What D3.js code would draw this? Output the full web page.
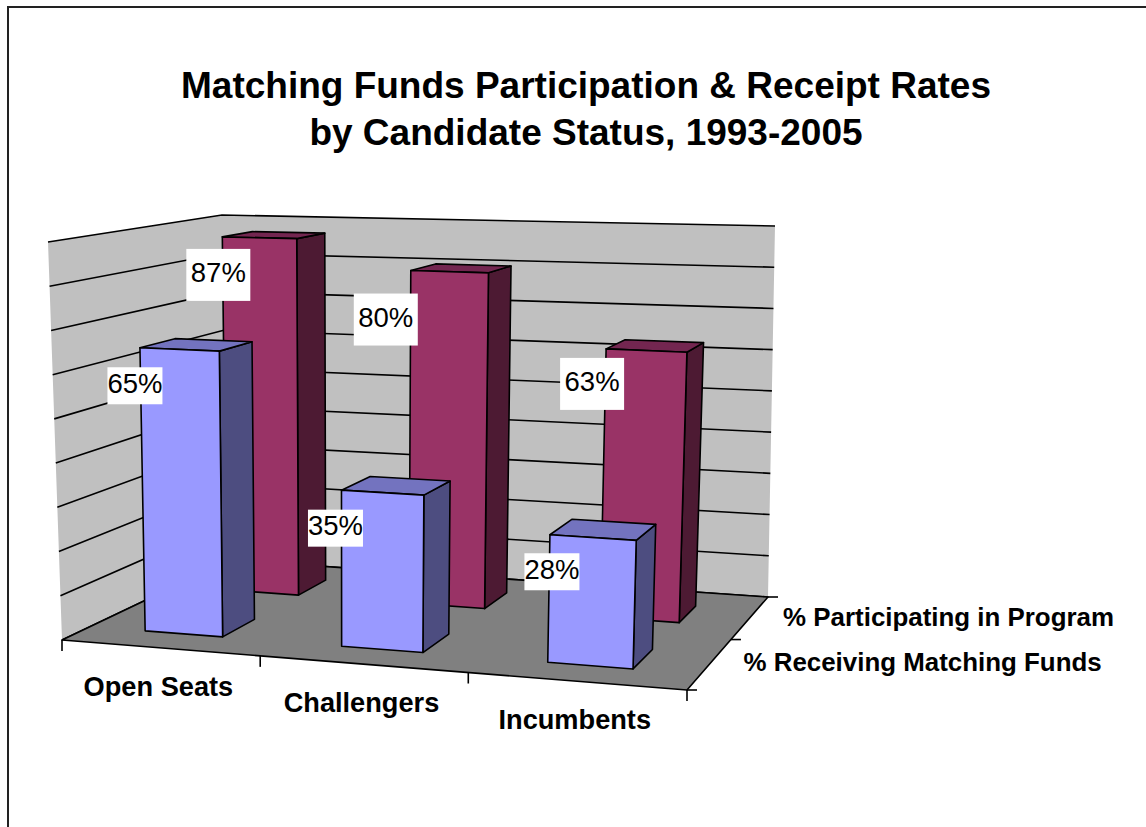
<!DOCTYPE html>
<meta charset="utf-8">
<script src="https://d3js.org/d3.v7.min.js"></script>
<style>
  body { margin: 0; background: #fff; }
  text { font-family: "Liberation Sans", Arial, sans-serif; fill: #000; }
</style>
<div id="chart"></div>
<script>
  // chart values
  const titleLines = ["Matching Funds Participation & Receipt Rates", "by Candidate Status, 1993-2005"];
  const categories = ["Open Seats", "Challengers", "Incumbents"];
  const seriesNames = ["% Receiving Matching Funds", "% Participating in Program"];
  const receiving = [65, 35, 28];
  const participating = [87, 80, 63];
  const valueTicks = [0, 10, 20, 30, 40, 50, 60, 70, 80, 90];

  const width = 1146, height = 827;

  // the box the 3d plot sits in, as seen on screen
  const floorCorners = [[62, 640], [687, 690], [768, 597], [230, 560]];
  const topCorners = [[48, 242], [699, 266], [775, 226], [222, 215]];
  // where the bars' upright edges would meet
  const vanish = [354, 12000];

  const colors = {
    wall: "#c0c0c0", floor: "#808080",
    front: ["#9999ff", "#993366"],
    side: ["#4d4d80", "#4d1a33"],
    top: ["#7373bf", "#732650"]
  };

  // label box nudges from the bar's front top left corner
  const boxNudge = [
    [[-5, 38], [-6, 38], [2, 37]],
    [[-4, 38], [-25, 49], [-14, 35]]
  ];

  const svg = d3.select("#chart").append("svg")
    .attr("width", width)
    .attr("height", height);

  // scales, all into the unit cube
  const xBand = d3.scaleBand().domain(categories).range([-0.004, 0.996]).paddingInner(0.6).paddingOuter(0.3);
  const zBand = d3.scaleBand().domain(seriesNames).range([0, 0.98]).paddingInner(0.6).paddingOuter(0.3);
  const yScale = d3.scaleLinear().domain([0, 90]).range([0, 1]);

  // maps the unit square onto a four sided shape
  function homography(c) {
    const [A, B, C, D] = c;
    const dx1 = B[0] - C[0], dx2 = D[0] - C[0], sx = A[0] - B[0] + C[0] - D[0];
    const dy1 = B[1] - C[1], dy2 = D[1] - C[1], sy = A[1] - B[1] + C[1] - D[1];
    const den = dx1 * dy2 - dx2 * dy1;
    const g = (sx * dy2 - dx2 * sy) / den;
    const h = (dx1 * sy - sx * dy1) / den;
    const a = B[0] - A[0] + g * B[0], b = D[0] - A[0] + h * D[0];
    const d = B[1] - A[1] + g * B[1], e = D[1] - A[1] + h * D[1];
    return function(u, v) {
      const w = g * u + h * v + 1;
      return [(a * u + b * v + A[0]) / w, (d * u + e * v + A[1]) / w];
    };
  }
  const floorMap = homography(floorCorners);
  const topMap = homography(topCorners);

  // walls and gridlines run between the box corners
  function project(u, v, t) {
    const p = floorMap(u, v), q = topMap(u, v);
    return [p[0] + (q[0] - p[0]) * t, p[1] + (q[1] - p[1]) * t];
  }

  // bars go straight up from the floor, leaning away from the vanishing point
  function barPoint(u, v, t) {
    const p = floorMap(u, v), q = topMap(u, v);
    const y = p[1] + (q[1] - p[1]) * t;
    const lean = (p[0] - vanish[0]) / (vanish[1] - p[1]);
    return [p[0] + lean * (p[1] - y), y];
  }

  const poly = d3.line().curve(d3.curveLinearClosed);
  const seg = d3.line();

  function face(pts, fill) {
    svg.append("path")
      .attr("d", poly(pts))
      .attr("fill", fill)
      .attr("stroke", "#000")
      .attr("stroke-width", 1.6)
      .attr("stroke-linejoin", "round");
  }

  // outer frame
  svg.append("path")
    .attr("d", seg([[8, height], [8, 7], [width, 7]]))
    .attr("fill", "none")
    .attr("stroke", "#222")
    .attr("stroke-width", 2);

  // walls
  svg.append("path")
    .attr("d", poly([project(0, 0, 0), project(0, 1, 0), project(1, 1, 0), project(1, 1, 1), project(0, 1, 1), project(0, 0, 1)]))
    .attr("fill", colors.wall);

  // gridlines
  valueTicks.forEach(function(tick) {
    const t = yScale(tick);
    svg.append("path")
      .attr("d", seg([project(0, 0, t), project(0, 1, t), project(1, 1, t)]))
      .attr("fill", "none")
      .attr("stroke", "#000")
      .attr("stroke-width", 1.6);
  });

  // floor
  face([project(0, 0, 0), project(1, 0, 0), project(1, 1, 0), project(0, 1, 0)], colors.floor);

  // category ticks along the front edge
  d3.range(categories.length + 1).forEach(function(i) {
    const p = project(i / categories.length, 0, 0);
    svg.append("path")
      .attr("d", seg([p, [p[0], p[1] + 11]]))
      .attr("stroke", "#000")
      .attr("stroke-width", 1.6);
  });

  // series ticks along the right edge
  d3.range(seriesNames.length + 1).forEach(function(i) {
    const p = project(1, i / seriesNames.length, 0);
    svg.append("path")
      .attr("d", seg([p, [p[0] + 10, p[1]]]))
      .attr("stroke", "#000")
      .attr("stroke-width", 1.6);
  });

  // bars, back row first
  const rows = [receiving, participating];
  [1, 0].forEach(function(r) {
    const z0 = zBand(seriesNames[r]), z1 = z0 + zBand.bandwidth();
    categories.forEach(function(cat, i) {
      const x0 = xBand(cat), x1 = x0 + xBand.bandwidth();
      const t = yScale(rows[r][i]);
      face([barPoint(x1, z0, 0), barPoint(x1, z1, 0), barPoint(x1, z1, t), barPoint(x1, z0, t)], colors.side[r]);
      face([barPoint(x0, z0, t), barPoint(x1, z0, t), barPoint(x1, z1, t), barPoint(x0, z1, t)], colors.top[r]);
      face([barPoint(x0, z0, 0), barPoint(x1, z0, 0), barPoint(x1, z0, t), barPoint(x0, z0, t)], colors.front[r]);
    });
  });

  // data labels on white boxes
  [1, 0].forEach(function(r) {
    const boxW = r ? 64 : 55, boxH = r ? 52 : 37;
    categories.forEach(function(cat, i) {
      const p = barPoint(xBand(cat), zBand(seriesNames[r]), yScale(rows[r][i]));
      const cx = p[0] + boxNudge[r][i][0], cy = p[1] + boxNudge[r][i][1];
      svg.append("rect")
        .attr("x", cx - boxW / 2)
        .attr("y", cy - boxH / 2)
        .attr("width", boxW)
        .attr("height", boxH)
        .attr("fill", "#fff");
      svg.append("text")
        .attr("x", cx)
        .attr("y", cy + 7)
        .attr("text-anchor", "middle")
        .attr("font-size", 27.5)
        .text(rows[r][i] + "%");
    });
  });

  // category labels
  categories.forEach(function(cat) {
    const p = project((categories.indexOf(cat) + 0.5) / categories.length, 0, 0);
    svg.append("text")
      .attr("x", p[0] - 1.5)
      .attr("y", p[1] + 48)
      .attr("text-anchor", "middle")
      .attr("font-size", 27.2)
      .attr("font-weight", "bold")
      .text(cat);
  });

  // series labels
  seriesNames.forEach(function(name) {
    const p = project(1, zBand(name) + zBand.bandwidth() / 2, 0);
    svg.append("text")
      .attr("x", p[0] + 34)
      .attr("y", p[1] + 7)
      .attr("font-size", 25.9)
      .attr("font-weight", "bold")
      .text(name);
  });

  // title
  svg.selectAll(".title")
    .data(titleLines)
    .join("text")
    .attr("class", "title")
    .attr("x", 586)
    .attr("y", function(d, i) { return 98 + i * 47; })
    .attr("text-anchor", "middle")
    .attr("font-size", 37)
    .attr("font-weight", "bold")
    .text(function(d) { return d; });
</script>
